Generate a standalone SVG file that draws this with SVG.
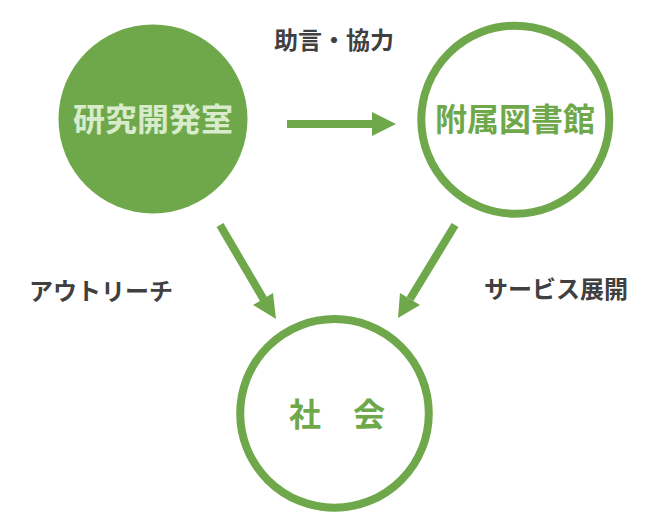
<svg xmlns="http://www.w3.org/2000/svg" width="654" height="523" viewBox="0 0 654 523">
<style>
text{font-family:"Noto Sans CJK JP","Noto Sans",sans-serif;font-weight:700;text-anchor:middle}
.l{font-size:24px;fill:#404040}
.n{font-size:32px;fill:#6fa84a}
.c{fill:none;stroke:#6fa84a;stroke-width:8}
.a{stroke:#6fa84a;stroke-width:8;fill:none}
.h{fill:#6fa84a}
</style>
<rect width="654" height="523" fill="#fff"/>
<g id="connectors">
<path class="a" d="M287 124H374"/><path class="h" d="M372 112L396 124L372 136Z"/>
<path class="a" d="M220 225L264 300"/><path class="h" d="M276 319L253 305L273 293Z"/>
<path class="a" d="M455 225L410 299"/><path class="h" d="M398 318L400 293L420 305Z"/>
</g>
<g id="node-lab"><circle cx="153" cy="119" r="94.500" fill="#6fa84a"/><text x="153" y="131" class="n" style="fill:#d8ebcb">研究開発室</text></g>
<g id="node-library"><circle class="c" cx="515.300" cy="119.700" r="94"/><text x="515" y="131" class="n">附属図書館</text></g>
<g id="node-society"><circle class="c" cx="334.500" cy="413.400" r="94.300"/><text x="337" y="426" class="n">社　会</text></g>
<text class="l" x="334" y="49">助言・協力</text>
<text class="l" x="101" y="300">アウトリーチ</text>
<text class="l" x="556" y="298">サービス展開</text>
</svg>
